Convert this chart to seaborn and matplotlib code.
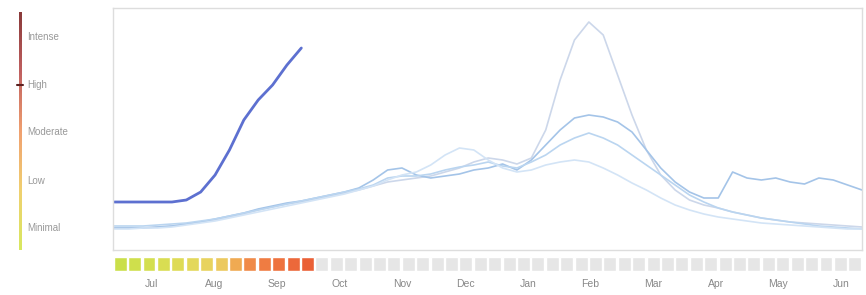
import numpy as np
import pandas as pd
import matplotlib.pyplot as plt
import seaborn as sns
from matplotlib.colors import LinearSegmentedColormap

# weekly flu activity, week 0 = first week of July
current = [48, 48, 48, 48, 48, 50, 58, 75, 100, 130, 150, 165, 185, 202]

season_a = [22, 22, 22, 23, 24, 26, 28, 30, 33, 36, 40, 43, 46, 48, 51, 54, 57,
            60, 64, 68, 70, 72, 74, 78, 82, 88, 92, 90, 86, 92, 120, 170, 210,
            228, 215, 175, 135, 100, 75, 60, 50, 45, 42, 38, 35, 32, 30, 28,
            27, 26, 25, 24, 23]
season_b = [22, 22, 22, 23, 24, 26, 28, 31, 34, 37, 41, 44, 47, 49, 52, 55, 58,
            62, 70, 80, 82, 75, 72, 74, 76, 80, 82, 86, 80, 90, 105, 120, 132,
            135, 133, 128, 118, 100, 82, 68, 58, 52, 52, 78, 72, 70, 72, 68,
            66, 72, 70, 65, 60]
season_c = [24, 24, 24, 25, 26, 27, 29, 31, 34, 37, 40, 43, 46, 49, 52, 55, 58,
            61, 65, 72, 74, 74, 76, 80, 83, 85, 88, 84, 82, 88, 95, 105, 112,
            117, 112, 105, 95, 85, 75, 65, 55, 48, 42, 38, 35, 32, 30, 28, 26,
            24, 23, 22, 21]
season_d = [21, 21, 22, 22, 23, 25, 27, 29, 32, 35, 38, 41, 44, 47, 50, 53, 56,
            60, 64, 70, 75, 78, 85, 95, 102, 100, 90, 82, 78, 80, 85, 88, 90,
            88, 82, 75, 67, 60, 52, 45, 40, 36, 33, 31, 29, 27, 26, 25, 24, 23,
            22, 21, 21]

levels = ['Minimal', 'Low', 'Moderate', 'High', 'Intense']
level_values = [22, 69, 118, 165, 213]

months = ['Jul', 'Aug', 'Sep', 'Oct', 'Nov', 'Dec', 'Jan', 'Feb', 'Mar', 'Apr', 'May', 'Jun']

# weekly activity level color for the strip (rest = no data yet)
week_colors = ['#cadf4a', '#cfdf4c', '#d4df50', '#d9dd52', '#dedb56', '#e3d85a',
               '#e8d35e', '#ecc95e', '#f0aa52', '#f08a48', '#ef7c42', '#ee723e',
               '#ec683a', '#ea6036']
n_weeks = 52

W, H = 866, 295
fig = plt.figure(figsize=(W / 100, H / 100), dpi=100)
sns.set_style('white')
plt.rcParams['font.family'] = ['Liberation Sans', 'DejaVu Sans']

def box(x0, y0, x1, y1):
    return [x0 / W, 1 - y1 / H, (x1 - x0) / W, (y1 - y0) / H]

# main chart
ax = fig.add_axes(box(113, 8, 862, 250))
past = pd.DataFrame({
    'week': np.tile(np.arange(len(season_a)), 4),
    'value': season_a + season_b + season_c + season_d,
    'season': np.repeat(['a', 'b', 'c', 'd'], len(season_a)),
})
pal = {'a': '#ccd7ea', 'b': '#a4c4e8', 'c': '#bad5f0', 'd': '#d3e4f6'}
sns.lineplot(data=past, x='week', y='value', hue='season', palette=pal,
             linewidth=1.2, legend=False, ax=ax)
cur = pd.DataFrame({'week': np.arange(len(current)), 'value': current})
sns.lineplot(data=cur, x='week', y='value', color='#5d70d0', linewidth=2, ax=ax)
ax.set_xlim(-0.1, n_weeks)
ax.set_ylim(0, 242)
ax.set_xticks([])
ax.set_yticks([])
ax.set_xlabel('')
ax.set_ylabel('')
for s in ax.spines.values():
    s.set_color('#dddddd')
    s.set_linewidth(1)

# weekly level strip
sx = fig.add_axes(box(113, 257, 862, 271))
strip = pd.DataFrame({'week': np.arange(n_weeks), 'h': 1})
colors = week_colors + ['#e6e6e6'] * (n_weeks - len(week_colors))
sns.barplot(data=strip, x='week', y='h', hue='week', palette=colors,
            width=0.9, legend=False, saturation=1, ax=sx)
sx.set_xlim(-0.5, n_weeks - 0.5)
sx.set_ylim(0, 1)
sx.set_yticks([])
sx.set_ylabel('')
sx.set_xlabel('')
sx.set_xticks([2.2 + 4.35 * i for i in range(12)])
sx.set_xticklabels(months, fontsize=7.5, color='#888888')
sx.tick_params(length=0, pad=6)
sns.despine(ax=sx, left=True, bottom=True)

# level legend on the left
lx = fig.add_axes(box(8, 8, 108, 250))
lx.set_xlim(0, 100)
lx.set_ylim(0, 242)
cmap = LinearSegmentedColormap.from_list(
    'lvl', ['#d8e860', '#f0d070', '#f0a070', '#c06060', '#8a3a3a'])
grad = np.linspace(0, 1, 200).reshape(-1, 1)
lx.imshow(grad, cmap=cmap, origin='lower', aspect='auto',
          extent=(11, 14, 0, 238))
lx.plot([9, 15], [165, 165], color='#5a2020', linewidth=1.5)
for name, v in zip(levels, level_values):
    lx.text(19, v, name, fontsize=7, color='#999999', va='center')
lx.set_xticks([])
lx.set_yticks([])
for s in lx.spines.values():
    s.set_visible(False)

fig.savefig('out.png', dpi=100)
